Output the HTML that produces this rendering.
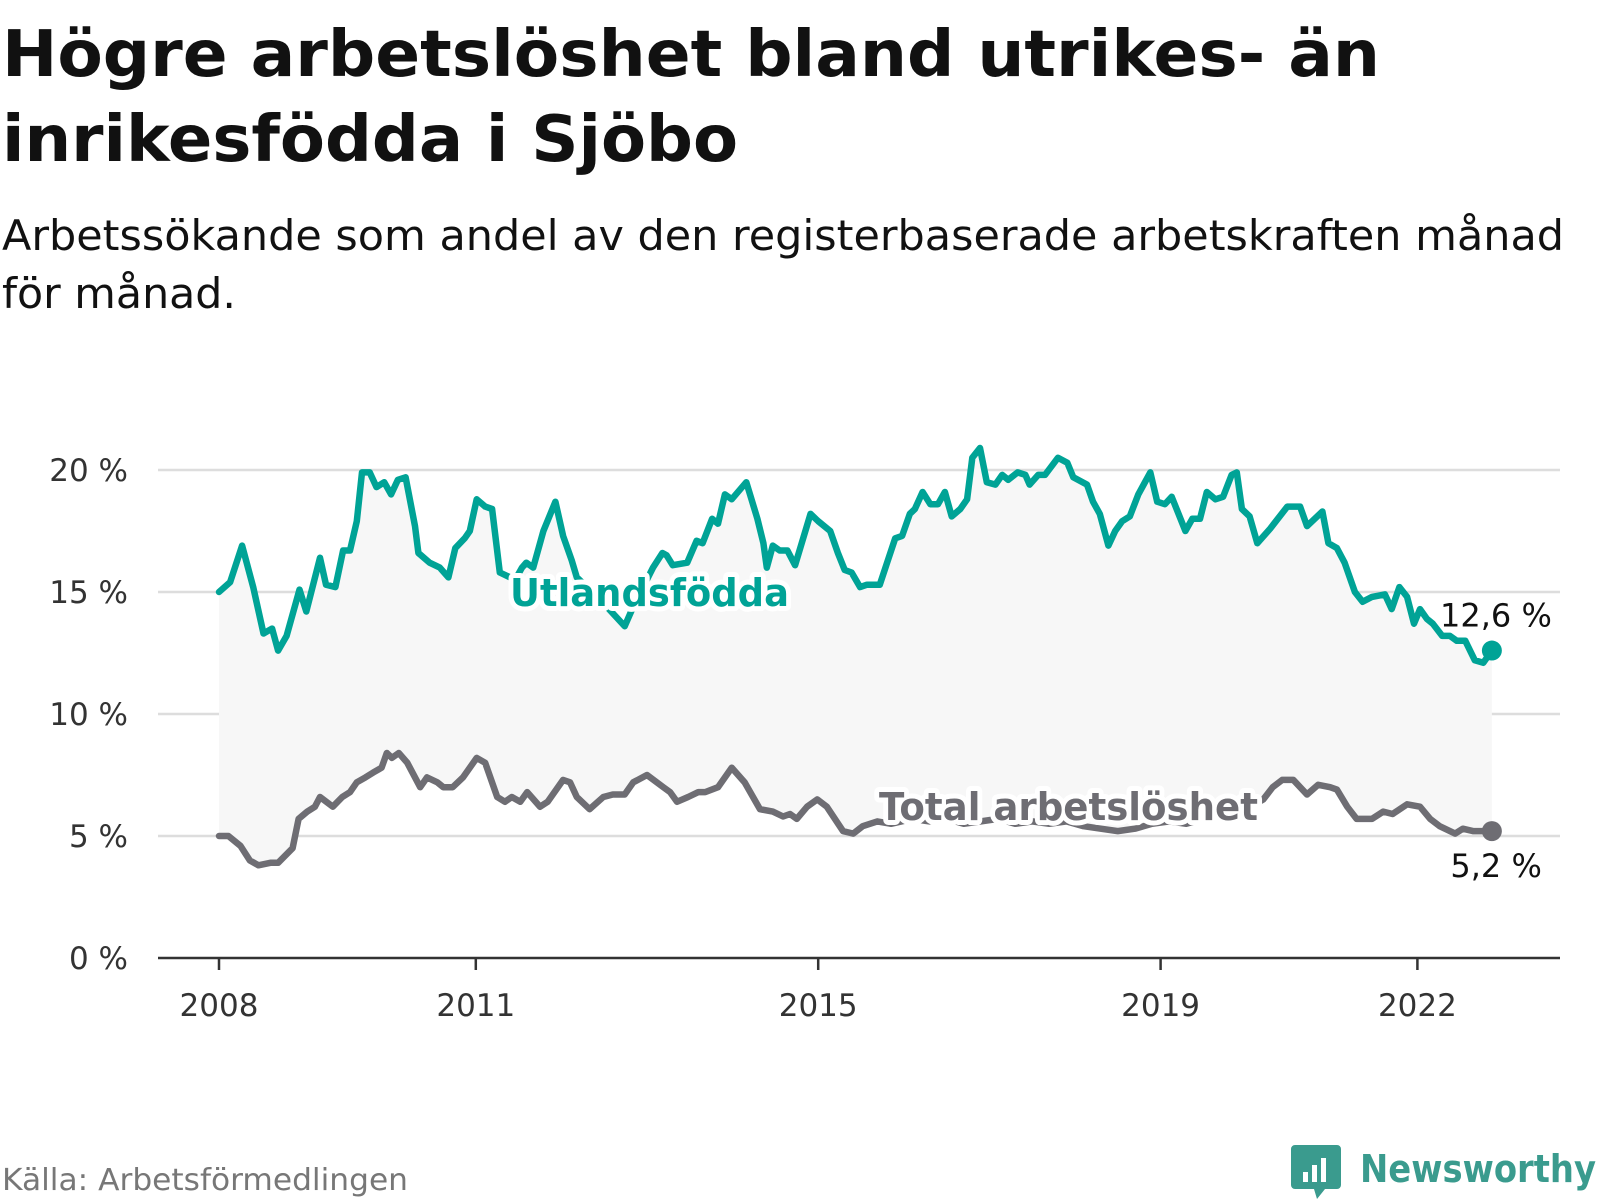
<!DOCTYPE html>
<html><head><meta charset="utf-8"><style>
html,body{margin:0;padding:0;background:#fff;width:1600px;height:1200px;overflow:hidden;}
svg text{font-family:"DejaVu Sans","Liberation Sans",sans-serif;}
</style></head><body>
<svg id="chart" width="1600" height="1200" viewBox="0 0 1600 1200" xmlns="http://www.w3.org/2000/svg">
<text x="2" y="76" font-size="64" font-weight="bold" fill="#111" textLength="1378" lengthAdjust="spacingAndGlyphs">Högre arbetslöshet bland utrikes- än</text>
<text x="2" y="161" font-size="64" font-weight="bold" fill="#111" textLength="736" lengthAdjust="spacingAndGlyphs">inrikesfödda i Sjöbo</text>
<text x="2" y="250" font-size="42" fill="#111" textLength="1562" lengthAdjust="spacingAndGlyphs">Arbetssökande som andel av den registerbaserade arbetskraften månad</text>
<text x="2" y="308" font-size="42" fill="#111" textLength="234" lengthAdjust="spacingAndGlyphs">för månad.</text>
<g id="grid"></g>
<g id="plot"></g>
<text x="2" y="1190" font-size="30" fill="#777" textLength="406" lengthAdjust="spacingAndGlyphs">Källa: Arbetsförmedlingen</text>
<g>
<path d="M1295 1145 h42 a4 4 0 0 1 4 4 v36 a4 4 0 0 1 -4 4 h-12 l-8 10 l-3 -10 h-19 a4 4 0 0 1 -4 -4 v-36 a4 4 0 0 1 4 -4z" fill="#3a9b8e"/>
<rect x="1303" y="1172" width="5" height="10" fill="#fff"/><rect x="1312" y="1165" width="5" height="17" fill="#fff"/><rect x="1321" y="1158" width="5" height="24" fill="#fff"/>
<text x="1360" y="1182" font-size="38" font-weight="bold" fill="#3a9b8e" textLength="236" lengthAdjust="spacingAndGlyphs">Newsworthy</text>
</g>
</svg>
<script>
var tickValues=[0,5,10,15,20];
var tickLabels=["0 %","5 %","10 %","15 %","20 %"];
var xTickYears=[2008,2011,2015,2019,2022];
var utlDates=[2008.00,2008.13,2008.27,2008.40,2008.52,2008.62,2008.69,2008.79,2008.94,2009.02,2009.18,2009.25,2009.36,2009.45,2009.53,2009.61,2009.67,2009.76,2009.84,2009.93,2010.01,2010.09,2010.18,2010.29,2010.33,2010.46,2010.58,2010.68,2010.76,2010.87,2010.93,2011.01,2011.11,2011.19,2011.28,2011.46,2011.54,2011.59,2011.67,2011.79,2011.93,2012.02,2012.12,2012.18,2012.45,2012.74,2012.84,2013.07,2013.18,2013.23,2013.30,2013.47,2013.58,2013.65,2013.76,2013.83,2013.91,2013.99,2014.16,2014.29,2014.36,2014.40,2014.47,2014.55,2014.64,2014.73,2014.91,2015.00,2015.14,2015.23,2015.31,2015.39,2015.49,2015.57,2015.72,2015.90,2015.98,2016.07,2016.13,2016.22,2016.31,2016.40,2016.48,2016.56,2016.66,2016.74,2016.80,2016.89,2016.97,2017.07,2017.15,2017.22,2017.33,2017.42,2017.47,2017.57,2017.65,2017.80,2017.91,2017.98,2018.14,2018.21,2018.29,2018.39,2018.47,2018.55,2018.64,2018.74,2018.88,2018.96,2019.05,2019.13,2019.29,2019.37,2019.46,2019.54,2019.64,2019.73,2019.83,2019.89,2019.95,2020.04,2020.13,2020.28,2020.48,2020.63,2020.71,2020.89,2020.96,2021.06,2021.15,2021.27,2021.36,2021.47,2021.62,2021.70,2021.79,2021.88,2021.96,2022.03,2022.11,2022.18,2022.29,2022.38,2022.46,2022.56,2022.67,2022.77,2022.87];
var utlValues=[15.0,15.4,16.9,15.2,13.3,13.5,12.6,13.2,15.1,14.2,16.4,15.3,15.2,16.7,16.7,17.9,19.9,19.9,19.3,19.5,19.0,19.6,19.7,17.7,16.6,16.2,16.0,15.6,16.8,17.2,17.5,18.8,18.5,18.4,15.8,15.5,16.0,16.2,16.0,17.5,18.7,17.3,16.3,15.6,14.7,13.6,14.4,16.0,16.6,16.5,16.1,16.2,17.1,17.0,18.0,17.8,19.0,18.8,19.5,18.0,17.0,16.0,16.9,16.7,16.7,16.1,18.2,17.9,17.5,16.6,15.9,15.8,15.2,15.3,15.3,17.2,17.3,18.2,18.4,19.1,18.6,18.6,19.1,18.1,18.4,18.8,20.5,20.9,19.5,19.4,19.8,19.6,19.9,19.8,19.4,19.8,19.8,20.5,20.3,19.7,19.4,18.7,18.2,16.9,17.5,17.9,18.1,19.0,19.9,18.7,18.6,18.9,17.5,18.0,18.0,19.1,18.8,18.9,19.8,19.9,18.4,18.1,17.0,17.6,18.5,18.5,17.7,18.3,17.0,16.8,16.2,15.0,14.6,14.8,14.9,14.3,15.2,14.8,13.7,14.3,13.9,13.7,13.2,13.2,13.0,13.0,12.2,12.1,12.6];
var totDates=[2008.00,2008.11,2008.25,2008.36,2008.46,2008.60,2008.69,2008.86,2008.93,2009.03,2009.12,2009.18,2009.33,2009.44,2009.53,2009.61,2009.71,2009.80,2009.90,2009.96,2010.02,2010.10,2010.20,2010.35,2010.43,2010.55,2010.62,2010.73,2010.85,2011.01,2011.11,2011.25,2011.34,2011.42,2011.52,2011.60,2011.75,2011.84,2012.02,2012.10,2012.18,2012.33,2012.49,2012.60,2012.74,2012.84,2013.00,2013.19,2013.27,2013.35,2013.48,2013.60,2013.68,2013.83,2013.99,2014.14,2014.32,2014.47,2014.59,2014.67,2014.75,2014.87,2014.99,2015.10,2015.29,2015.41,2015.52,2015.69,2015.85,2016.10,2016.30,2016.50,2016.70,2016.90,2017.10,2017.30,2017.50,2017.70,2017.90,2018.10,2018.30,2018.50,2018.70,2018.90,2019.10,2019.30,2019.50,2019.70,2019.90,2020.05,2020.20,2020.31,2020.42,2020.55,2020.71,2020.84,2020.98,2021.06,2021.18,2021.29,2021.36,2021.47,2021.60,2021.71,2021.88,2022.03,2022.15,2022.26,2022.44,2022.53,2022.65,2022.87];
var totValues=[5.0,5.0,4.6,4.0,3.8,3.9,3.9,4.5,5.7,6.0,6.2,6.6,6.2,6.6,6.8,7.2,7.4,7.6,7.8,8.4,8.2,8.4,8.0,7.0,7.4,7.2,7.0,7.0,7.4,8.2,8.0,6.6,6.4,6.6,6.4,6.8,6.2,6.4,7.3,7.2,6.6,6.1,6.6,6.7,6.7,7.2,7.5,7.0,6.8,6.4,6.6,6.8,6.8,7.0,7.8,7.2,6.1,6.0,5.8,5.9,5.7,6.2,6.5,6.2,5.2,5.1,5.4,5.6,5.5,5.7,5.6,5.7,5.5,5.6,5.7,5.5,5.6,5.5,5.6,5.4,5.3,5.2,5.3,5.5,5.6,5.5,5.7,5.9,6.0,6.2,6.5,7.0,7.3,7.3,6.7,7.1,7.0,6.9,6.2,5.7,5.7,5.7,6.0,5.9,6.3,6.2,5.7,5.4,5.1,5.3,5.2,5.2];
var NS="http://www.w3.org/2000/svg";
function xScale(yr){return 219+(yr-2008)*85.6;}
function yScale(v){return 958-v*24.4;}
function mk(tag,attrs,parent){var e=document.createElementNS(NS,tag);for(var k in attrs)e.setAttribute(k,attrs[k]);parent.appendChild(e);return e;}
var grid=document.getElementById('grid');
var plot=document.getElementById('plot');
tickValues.forEach(function(v,i){
  if(v>0){var gl=mk('line',{x1:158,x2:1560,y1:yScale(v),y2:yScale(v),stroke:'#dddddd','stroke-width':2.5},grid);
  
  }
  var t=mk('text',{x:128,y:yScale(v)+11,'text-anchor':'end','font-size':31,fill:'#333'},grid);
  t.textContent=tickLabels[i];
  
  
});
var ax=mk('line',{x1:158,x2:1560,y1:958,y2:958,stroke:'#333','stroke-width':2.5},grid);


xTickYears.forEach(function(y){
  var tk=mk('line',{x1:xScale(y),x2:xScale(y),y1:958,y2:970,stroke:'#333','stroke-width':2.5},grid);
  
  
  var t=mk('text',{x:xScale(y),y:1016,'text-anchor':'middle','font-size':31,fill:'#333'},grid);
  t.textContent=String(y);
  
  
});
function pts(d,v){return d.map(function(x,i){return xScale(x).toFixed(1)+','+yScale(v[i]).toFixed(1);});}
var up=pts(utlDates,utlValues), tp=pts(totDates,totValues).reverse();
var area=mk('polygon',{points:up.concat(tp).join(' '),fill:'#f7f7f7'},plot);


var lu=mk('polyline',{points:up.join(' '),fill:'none',stroke:'#00a396','stroke-width':6.5,'stroke-linejoin':'round','stroke-linecap':'round'},plot);


var lt=mk('polyline',{points:pts(totDates,totValues).join(' '),fill:'none',stroke:'#6e6d73','stroke-width':6.5,'stroke-linejoin':'round','stroke-linecap':'round'},plot);


var nu=utlDates.length-1, nt=totDates.length-1;
var du=mk('circle',{cx:xScale(utlDates[nu]),cy:yScale(utlValues[nu]),r:10,fill:'#00a396'},plot);


var dt=mk('circle',{cx:xScale(totDates[nt]),cy:yScale(totValues[nt]),r:10,fill:'#6e6d73'},plot);


var vu=mk('text',{x:xScale(utlDates[nu])+60,y:yScale(utlValues[nu])-24,'text-anchor':'end','font-size':32,fill:'#111'},plot);
vu.textContent=utlValues[nu].toFixed(1).replace('.',',')+' %';


var vt=mk('text',{x:xScale(totDates[nt])+50,y:yScale(totValues[nt])+46,'text-anchor':'end','font-size':32,fill:'#111'},plot);
vt.textContent=totValues[nt].toFixed(1).replace('.',',')+' %';


function label(txt,x,y,w,col,name){
  var h=mk('text',{x:x,y:y,'font-size':38,'font-weight':'bold',fill:'#fff',stroke:'#fff','stroke-width':10,'stroke-linejoin':'round',textLength:w,lengthAdjust:'spacingAndGlyphs'},plot);
  h.textContent=txt;
  
  
  var t=mk('text',{x:x,y:y,'font-size':38,'font-weight':'bold',fill:col,textLength:w,lengthAdjust:'spacingAndGlyphs'},plot);
  t.textContent=txt;
  
  
}
label('Utlandsfödda',510,606,279,'#00a396','utlandsfodda-label');
label('Total arbetslöshet',879,820,379,'#6e6d73','total-label');
</script>
</body></html>
